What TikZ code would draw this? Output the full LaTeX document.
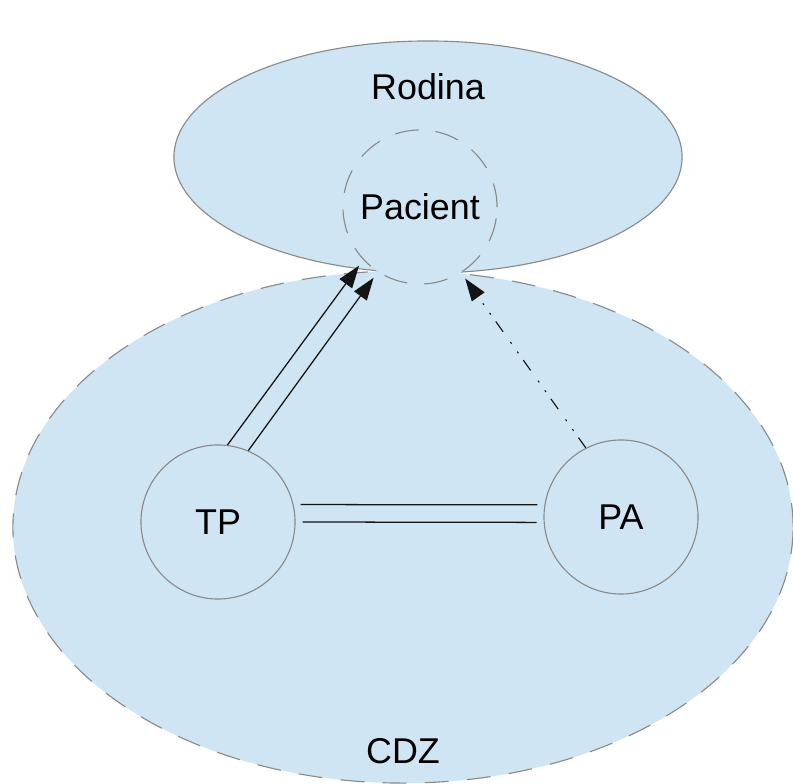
\documentclass[tikz,border=0pt]{standalone}
\usepackage{fontspec}
\setmainfont{Liberation Sans}
\usetikzlibrary{shapes.geometric,arrows.meta}
\definecolor{areablue}{HTML}{CFE5F3}
\definecolor{linegray}{HTML}{8A8A8A}
\definecolor{linkblack}{HTML}{141414}

\begin{document}
\begin{tikzpicture}[x=0.025cm,y=0.025cm,font=\fontsize{25.5}{30}\selectfont]
\useasboundingbox (0,0) rectangle (793,783);
\begin{scope}[every node/.style={ellipse,draw=linegray,fill=areablue,line width=0.8pt,inner sep=0pt}]
    \node (CDZ)[dash pattern=on 17pt off 13pt, minimum width=19.5cm, minimum height=12.8cm] at (403,256) {};
    \node (Rodina)[minimum width=12.7cm, minimum height=5.8cm] at (428,626) {};
\end{scope}
\node (cdztext) at ([yshift=0.82cm]CDZ.south) {CDZ};
\node (rodinatext) at ([yshift=-1.15cm]Rodina.north) {Rodina};

\begin{scope}[every node/.style={circle,draw=linegray,fill=areablue,line width=0.8pt,inner sep=0pt,minimum size=3.85cm}]
    \node (Pacient)[dash pattern=on 17pt off 12pt] at (420,576) {Pacient};
    \node (TP) at (218,261) {TP};
    \node (PA) at (621,266) {PA};
\end{scope}

\begin{scope}[every edge/.style={draw=linkblack,line width=0.9pt,-{Triangle[length=16pt,width=11pt]},shorten >=5pt}]
    \path  (TP.83) edge (Pacient.223);
    \path  (TP.67) edge (Pacient.237);
    \path  (PA.117) edge[line width=0.8pt,dash pattern=on 9pt off 6pt on 1.4pt off 7pt on 1.4pt off 9pt] (Pacient.302);
\end{scope}

\begin{scope}[every edge/.style={draw=linkblack,line width=0.9pt,shorten >=5pt,shorten <=5pt}]
    \path  (TP.13) edge (PA.171);
    \path  (TP.0) edge (PA.184);
\end{scope}
\end{tikzpicture}
\end{document}
